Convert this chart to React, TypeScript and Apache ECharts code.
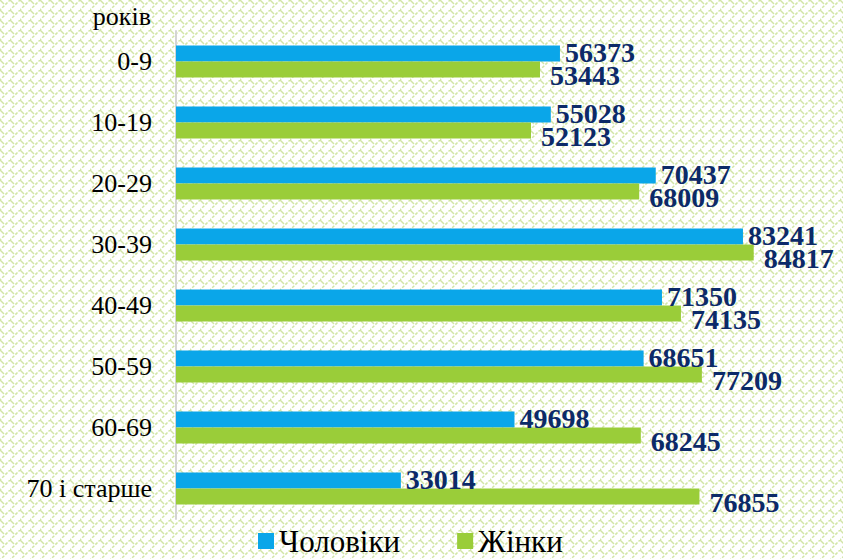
import React, { useEffect, useRef } from "react";
import * as echarts from "echarts";

const categories = ["0-9", "10-19", "20-29", "30-39", "40-49", "50-59", "60-69", "70 і старше"];
const men = [56373, 55028, 70437, 83241, 71350, 68651, 49698, 33014];
const women = [53443, 52123, 68009, 84817, 74135, 77209, 68245, 76855];
const seriesNames = ["Чоловіки", "Жінки"];
const axisTitle = "років";

const tile =
  "data:image/svg+xml;utf8," +
  encodeURIComponent(
    "<svg xmlns='http://www.w3.org/2000/svg' width='10' height='10'>" +
      "<path d='M-1 11L11 -1' stroke='#d2e6a6' stroke-width='1.5' stroke-dasharray='3 1.5'/>" +
      "<path d='M0 0L4 4' stroke='#d2e6a6' stroke-width='1.5'/>" +
      "</svg>"
  );

export default function App() {
  const ref = useRef<HTMLDivElement>(null);
  useEffect(() => {
    if (!ref.current) return;
    const chart = echarts.init(ref.current, null, { renderer: "svg" });
    const serif = "Liberation Serif";
    chart.setOption({
      animation: false,
      backgroundColor: "transparent",
      textStyle: { fontFamily: serif },
      grid: { left: 176, top: 31, height: 488, width: 613 },
      xAxis: {
        type: "value",
        min: 0,
        max: 90000,
        show: false,
      },
      yAxis: {
        type: "category",
        data: categories,
        inverse: true,
        axisLine: { show: true, lineStyle: { color: "#d4d4d4", width: 2 } },
        axisTick: { show: false },
        axisLabel: { color: "#000", fontSize: 26, fontFamily: serif, margin: 24 },
      },
      legend: {
        top: 525,
        left: 258,
        padding: 0,
        icon: "rect",
        itemWidth: 16,
        itemHeight: 16,
        itemGap: 57,
        textStyle: { fontSize: 31, lineHeight: 32, color: "#000", fontFamily: serif },
        data: seriesNames,
      },
      graphic: [
        {
          type: "text",
          right: 843 - 151,
          top: 3,
          style: { text: axisTitle, fontSize: 26, fontFamily: serif, fill: "#000" },
        },
      ],
      series: [
        {
          name: seriesNames[0],
          type: "bar",
          data: men,
          barWidth: 16,
          barGap: "0%",
          itemStyle: { color: "#0aa6e9" },
          label: {
            show: true,
            position: "right",
            distance: 5,
            offset: [0, -1],
            color: "#0c2a68",
            fontWeight: "bold",
            fontSize: 28,
            fontFamily: serif,
          },
        },
        {
          name: seriesNames[1],
          type: "bar",
          data: women,
          barWidth: 16,
          barGap: "0%",
          itemStyle: { color: "#9acd39" },
          label: {
            show: true,
            position: "right",
            distance: 10,
            offset: [0, 6],
            color: "#0c2a68",
            fontWeight: "bold",
            fontSize: 28,
            fontFamily: serif,
          },
        },
      ],
    });
    return () => chart.dispose();
  }, []);
  return (
    <div
      ref={ref}
      style={{
        width: 843,
        height: 559,
        position: "fixed",
        left: 0,
        top: 0,
        backgroundColor: "#fff",
        backgroundImage: `url("${tile}")`,
        backgroundRepeat: "repeat",
      }}
    />
  );
}
